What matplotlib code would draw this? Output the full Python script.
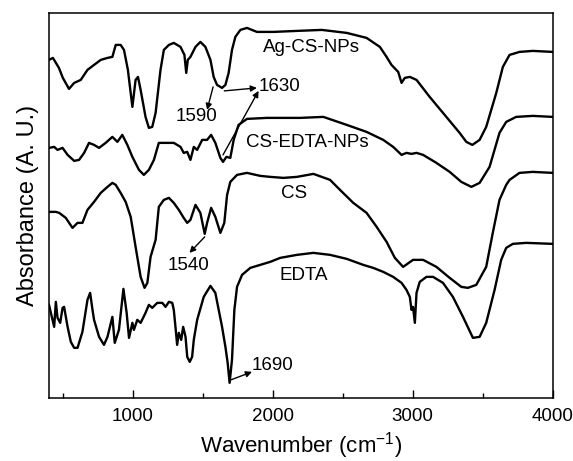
import matplotlib
matplotlib.use('Agg')
import matplotlib.pyplot as plt
from matplotlib.ticker import MultipleLocator

plt.rcParams['font.family'] = ['Liberation Sans', 'DejaVu Sans']
plt.rcParams['mathtext.default'] = 'regular'

# FTIR spectra (wavenumber in cm-1, absorbance in arb. units, stacked)
ag_wn = [400, 428, 471, 499, 543, 580, 627, 675, 722, 770, 818, 853, 877, 912, 936, 964, 996,
         1019, 1036, 1055, 1090, 1114, 1138, 1162, 1197, 1221, 1257, 1292, 1340, 1368, 1381, 1392,
         1411, 1447, 1482, 1518, 1554, 1577, 1601, 1637, 1661, 1684, 1708, 1732, 1768, 1815, 1886,
         2005, 2172, 2350, 2528, 2670, 2765, 2813, 2848, 2896, 2920, 2943, 2979, 3027, 3121, 3240,
         3335, 3383, 3426, 3478, 3525, 3597, 3644, 3692, 3763, 3858, 4000]
ag_abs = [3.38, 3.40, 3.30, 3.20, 3.09, 3.15, 3.18, 3.28, 3.33, 3.38, 3.40, 3.41, 3.53, 3.53, 3.48,
          3.28, 2.91, 3.18, 3.21, 3.08, 2.81, 2.70, 2.71, 2.85, 3.28, 3.48, 3.53, 3.55, 3.51, 3.43,
          3.25, 3.38, 3.41, 3.51, 3.56, 3.51, 3.38, 3.21, 3.13, 3.10, 3.13, 3.25, 3.48, 3.61, 3.68,
          3.70, 3.66, 3.66, 3.67, 3.68, 3.65, 3.60, 3.51, 3.41, 3.33, 3.26, 3.15, 3.20, 3.21, 3.18,
          3.01, 2.81, 2.65, 2.56, 2.53, 2.58, 2.71, 3.05, 3.31, 3.43, 3.46, 3.47, 3.46]

cse_wn = [400, 437, 461, 497, 533, 580, 615, 651, 686, 722, 758, 805, 853, 889, 924, 960, 996,
          1043, 1078, 1114, 1150, 1185, 1221, 1269, 1292, 1340, 1363, 1388, 1411, 1435, 1459, 1495,
          1530, 1559, 1589, 1625, 1644, 1668, 1696, 1720, 1755, 1815, 1958, 2195, 2361, 2528, 2670,
          2789, 2860, 2920, 2955, 2991, 3027, 3074, 3169, 3264, 3347, 3419, 3478, 3549, 3620, 3668,
          3739, 3858, 4000]
cse_abs = [2.50, 2.51, 2.48, 2.50, 2.43, 2.37, 2.38, 2.45, 2.55, 2.53, 2.50, 2.55, 2.61, 2.56, 2.63,
           2.53, 2.41, 2.28, 2.23, 2.28, 2.38, 2.55, 2.55, 2.55, 2.55, 2.51, 2.45, 2.46, 2.38, 2.51,
           2.48, 2.58, 2.58, 2.63, 2.55, 2.40, 2.36, 2.41, 2.40, 2.58, 2.73, 2.79, 2.80, 2.80, 2.81,
           2.73, 2.66, 2.58, 2.51, 2.43, 2.45, 2.44, 2.45, 2.43, 2.35, 2.26, 2.16, 2.11, 2.15, 2.31,
           2.65, 2.76, 2.81, 2.82, 2.81]

cs_wn = [400, 449, 473, 520, 568, 604, 639, 675, 722, 770, 818, 853, 877, 912, 948, 984, 1019, 1055,
         1083, 1103, 1126, 1162, 1185, 1221, 1257, 1292, 1328, 1363, 1388, 1411, 1447, 1482, 1513,
         1530, 1559, 1589, 1625, 1653, 1673, 1696, 1744, 1815, 1910, 1981, 2076, 2172, 2290, 2409,
         2480, 2575, 2670, 2742, 2813, 2872, 2931, 3002, 3074, 3169, 3264, 3347, 3394, 3454, 3525,
         3572, 3620, 3668, 3692, 3763, 3858, 4000]
cs_abs = [1.86, 1.86, 1.85, 1.80, 1.70, 1.75, 1.75, 1.88, 1.96, 2.05, 2.11, 2.15, 2.13, 2.05, 1.96,
          1.81, 1.51, 1.21, 1.10, 1.15, 1.41, 1.58, 1.91, 1.98, 2.00, 1.95, 1.88, 1.80, 1.75, 1.78,
          1.93, 1.85, 1.64, 1.75, 1.90, 1.81, 1.65, 1.75, 2.03, 2.16, 2.23, 2.25, 2.22, 2.21, 2.20,
          2.21, 2.24, 2.18, 2.08, 1.95, 1.85, 1.71, 1.56, 1.40, 1.31, 1.38, 1.38, 1.31, 1.20, 1.11,
          1.10, 1.13, 1.31, 1.65, 1.98, 2.13, 2.18, 2.25, 2.26, 2.25]

edta_wn = [400, 437, 449, 461, 480, 497, 508, 533, 556, 580, 604, 639, 675, 694, 711, 722, 758, 793,
           818, 853, 870, 900, 932, 955, 972, 996, 1007, 1031, 1055, 1090, 1114, 1138, 1174, 1210,
           1233, 1257, 1281, 1292, 1304, 1316, 1328, 1345, 1359, 1376, 1388, 1406, 1423, 1435, 1459,
           1506, 1554, 1589, 1613, 1637, 1661, 1677, 1691, 1708, 1725, 1744, 1780, 1839, 1910, 1981,
           2053, 2172, 2290, 2409, 2528, 2646, 2717, 2789, 2860, 2920, 2955, 2979, 2991, 3002, 3015,
           3027, 3050, 3098, 3145, 3216, 3287, 3359, 3430, 3478, 3525, 3585, 3632, 3668, 3715, 3810,
           4000]
edta_abs = [0.93, 0.71, 0.96, 0.80, 0.75, 0.90, 0.91, 0.71, 0.56, 0.50, 0.50, 0.66, 0.98, 1.05, 0.88,
            0.78, 0.61, 0.53, 0.61, 0.81, 0.55, 0.68, 1.09, 0.85, 0.60, 0.75, 0.68, 0.78, 0.75, 0.85,
            0.93, 0.90, 0.95, 0.95, 0.91, 0.96, 0.95, 0.88, 0.71, 0.53, 0.65, 0.58, 0.71, 0.61, 0.41,
            0.36, 0.41, 0.58, 0.78, 1.01, 1.12, 1.05, 0.88, 0.71, 0.51, 0.35, 0.15, 0.38, 0.88, 1.11,
            1.23, 1.30, 1.33, 1.36, 1.40, 1.43, 1.45, 1.43, 1.39, 1.33, 1.30, 1.26, 1.21, 1.15, 1.08,
            1.01, 0.88, 0.91, 0.75, 1.05, 1.16, 1.21, 1.21, 1.15, 1.01, 0.81, 0.60, 0.61, 0.75, 1.08,
            1.38, 1.50, 1.54, 1.55, 1.54]

fig = plt.figure(figsize=(5.73, 4.61), dpi=100)
ax = fig.add_axes([0.0855, 0.137, 0.879, 0.835])

for wn, ab in [(ag_wn, ag_abs), (cse_wn, cse_abs), (cs_wn, cs_abs), (edta_wn, edta_abs)]:
    ax.plot(wn, ab, color='black', lw=1.7)

ax.set_xlim(400, 4000)
ax.set_ylim(0, 3.85)

fs = 13.5
ax.text(2273, 3.50, 'Ag-CS-NPs', ha='center', va='center', fontsize=fs)
ax.text(2245, 2.55, 'CS-EDTA-NPs', ha='center', va='center', fontsize=fs)
ax.text(2152, 2.04, 'CS', ha='center', va='center', fontsize=fs)
ax.text(2224, 1.22, 'EDTA', ha='center', va='center', fontsize=fs)
ax.text(2046, 3.11, '1630', ha='center', va='center', fontsize=fs)
ax.text(1454, 2.81, '1590', ha='center', va='center', fontsize=fs)
ax.text(1397, 1.32, '1540', ha='center', va='center', fontsize=fs)
ax.text(1996, 0.32, '1690', ha='center', va='center', fontsize=fs)

arr = dict(arrowstyle='-|>', color='black', lw=1.0, mutation_scale=9,
           shrinkA=0, shrinkB=0)
for start, end in [((1573, 3.11), (1530, 2.88)),
                   ((1653, 3.07), (1886, 3.10)),
                   ((1644, 2.43), (1898, 3.07)),
                   ((1513, 1.61), (1404, 1.45)),
                   ((1701, 0.18), (1851, 0.26))]:
    ax.annotate('', xy=end, xytext=start, arrowprops=arr)

ax.xaxis.set_major_locator(MultipleLocator(1000))
ax.xaxis.set_minor_locator(MultipleLocator(500))
ax.tick_params(axis='x', which='major', direction='in', length=6, width=1, labelsize=13.5, pad=7)
ax.tick_params(axis='x', which='minor', direction='in', length=3.5, width=1)
ax.set_yticks([])
for sp in ax.spines.values():
    sp.set_linewidth(1.1)

ax.set_xlabel('Wavenumber (cm$^{-1}$)', fontsize=16, labelpad=4)
ax.set_ylabel('Absorbance (A. U.)', fontsize=17, labelpad=7)

fig.savefig('out.png', dpi=100)
